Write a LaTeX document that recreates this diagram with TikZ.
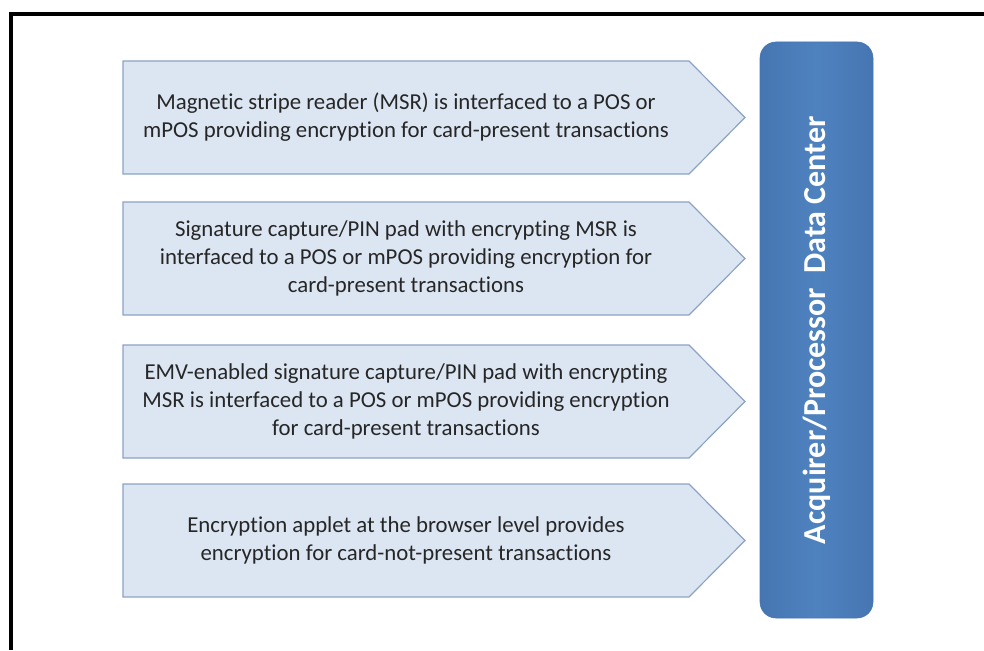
\documentclass[tikz,border=0pt]{standalone}
\usepackage{fontspec}
\setmainfont{Carlito}[Ligatures=NoCommon]
\usetikzlibrary{positioning}

\definecolor{boxfill}{RGB}{220,230,242}
\definecolor{boxline}{RGB}{140,163,196}
\definecolor{dcblue}{RGB}{78,130,191}
\definecolor{dcedge}{RGB}{70,118,178}

\begin{document}
\begin{tikzpicture}[x=1pt,y=-1pt,
  arrowbox/.style={fill=boxfill, draw=boxline, line width=1.2pt},
  boxtext/.style={align=center, text=black!85, font=\fontsize{22.8}{28}\selectfont},
  dcbox/.style={rounded corners=16pt, draw=dcedge, line width=0.6pt,
    left color=dcedge, right color=dcedge, middle color=dcblue,
    minimum width=113pt, minimum height=576pt},
  dclabel/.style={rotate=90, text=white, font=\fontsize{32}{36}\selectfont\bfseries}]

\useasboundingbox (0,0) rectangle (984,650);

% frame (only top and left edge show)
\draw[line width=4pt] (984,14) -- (11,14) -- (11,650);

% arrow boxes
\foreach \y in {61,202,345,484}
    \draw[arrowbox] (123,\y) -- (689,\y) -- (745,{\y+56.5})
        -- (689,{\y+113}) -- (123,{\y+113}) -- cycle;

\node[boxtext] (msr) at (406,117.5)
    {Magnetic stripe reader (MSR) is interfaced to a POS or\\
     mPOS providing encryption for card-present transactions};
\node[boxtext] (pinpad) at (406,258.5)
    {Signature capture/PIN pad with encrypting MSR is\\
     interfaced to a POS or mPOS providing encryption for\\
     card-present transactions};
\node[boxtext] (emv) at (406,401.5)
    {EMV-enabled signature capture/PIN pad with encrypting\\
     MSR is interfaced to a POS or mPOS providing encryption\\
     for card-present transactions};
\node[boxtext] (applet) at (406,540.5)
    {Encryption applet at the browser level provides\\
     encryption for card-not-present transactions};

% data center
\node[dcbox] (dc) at (816.5,330) {};
\node[dclabel] (dctext) at (dc.center) {Acquirer/Processor\ \ Data Center};

\end{tikzpicture}
\end{document}
